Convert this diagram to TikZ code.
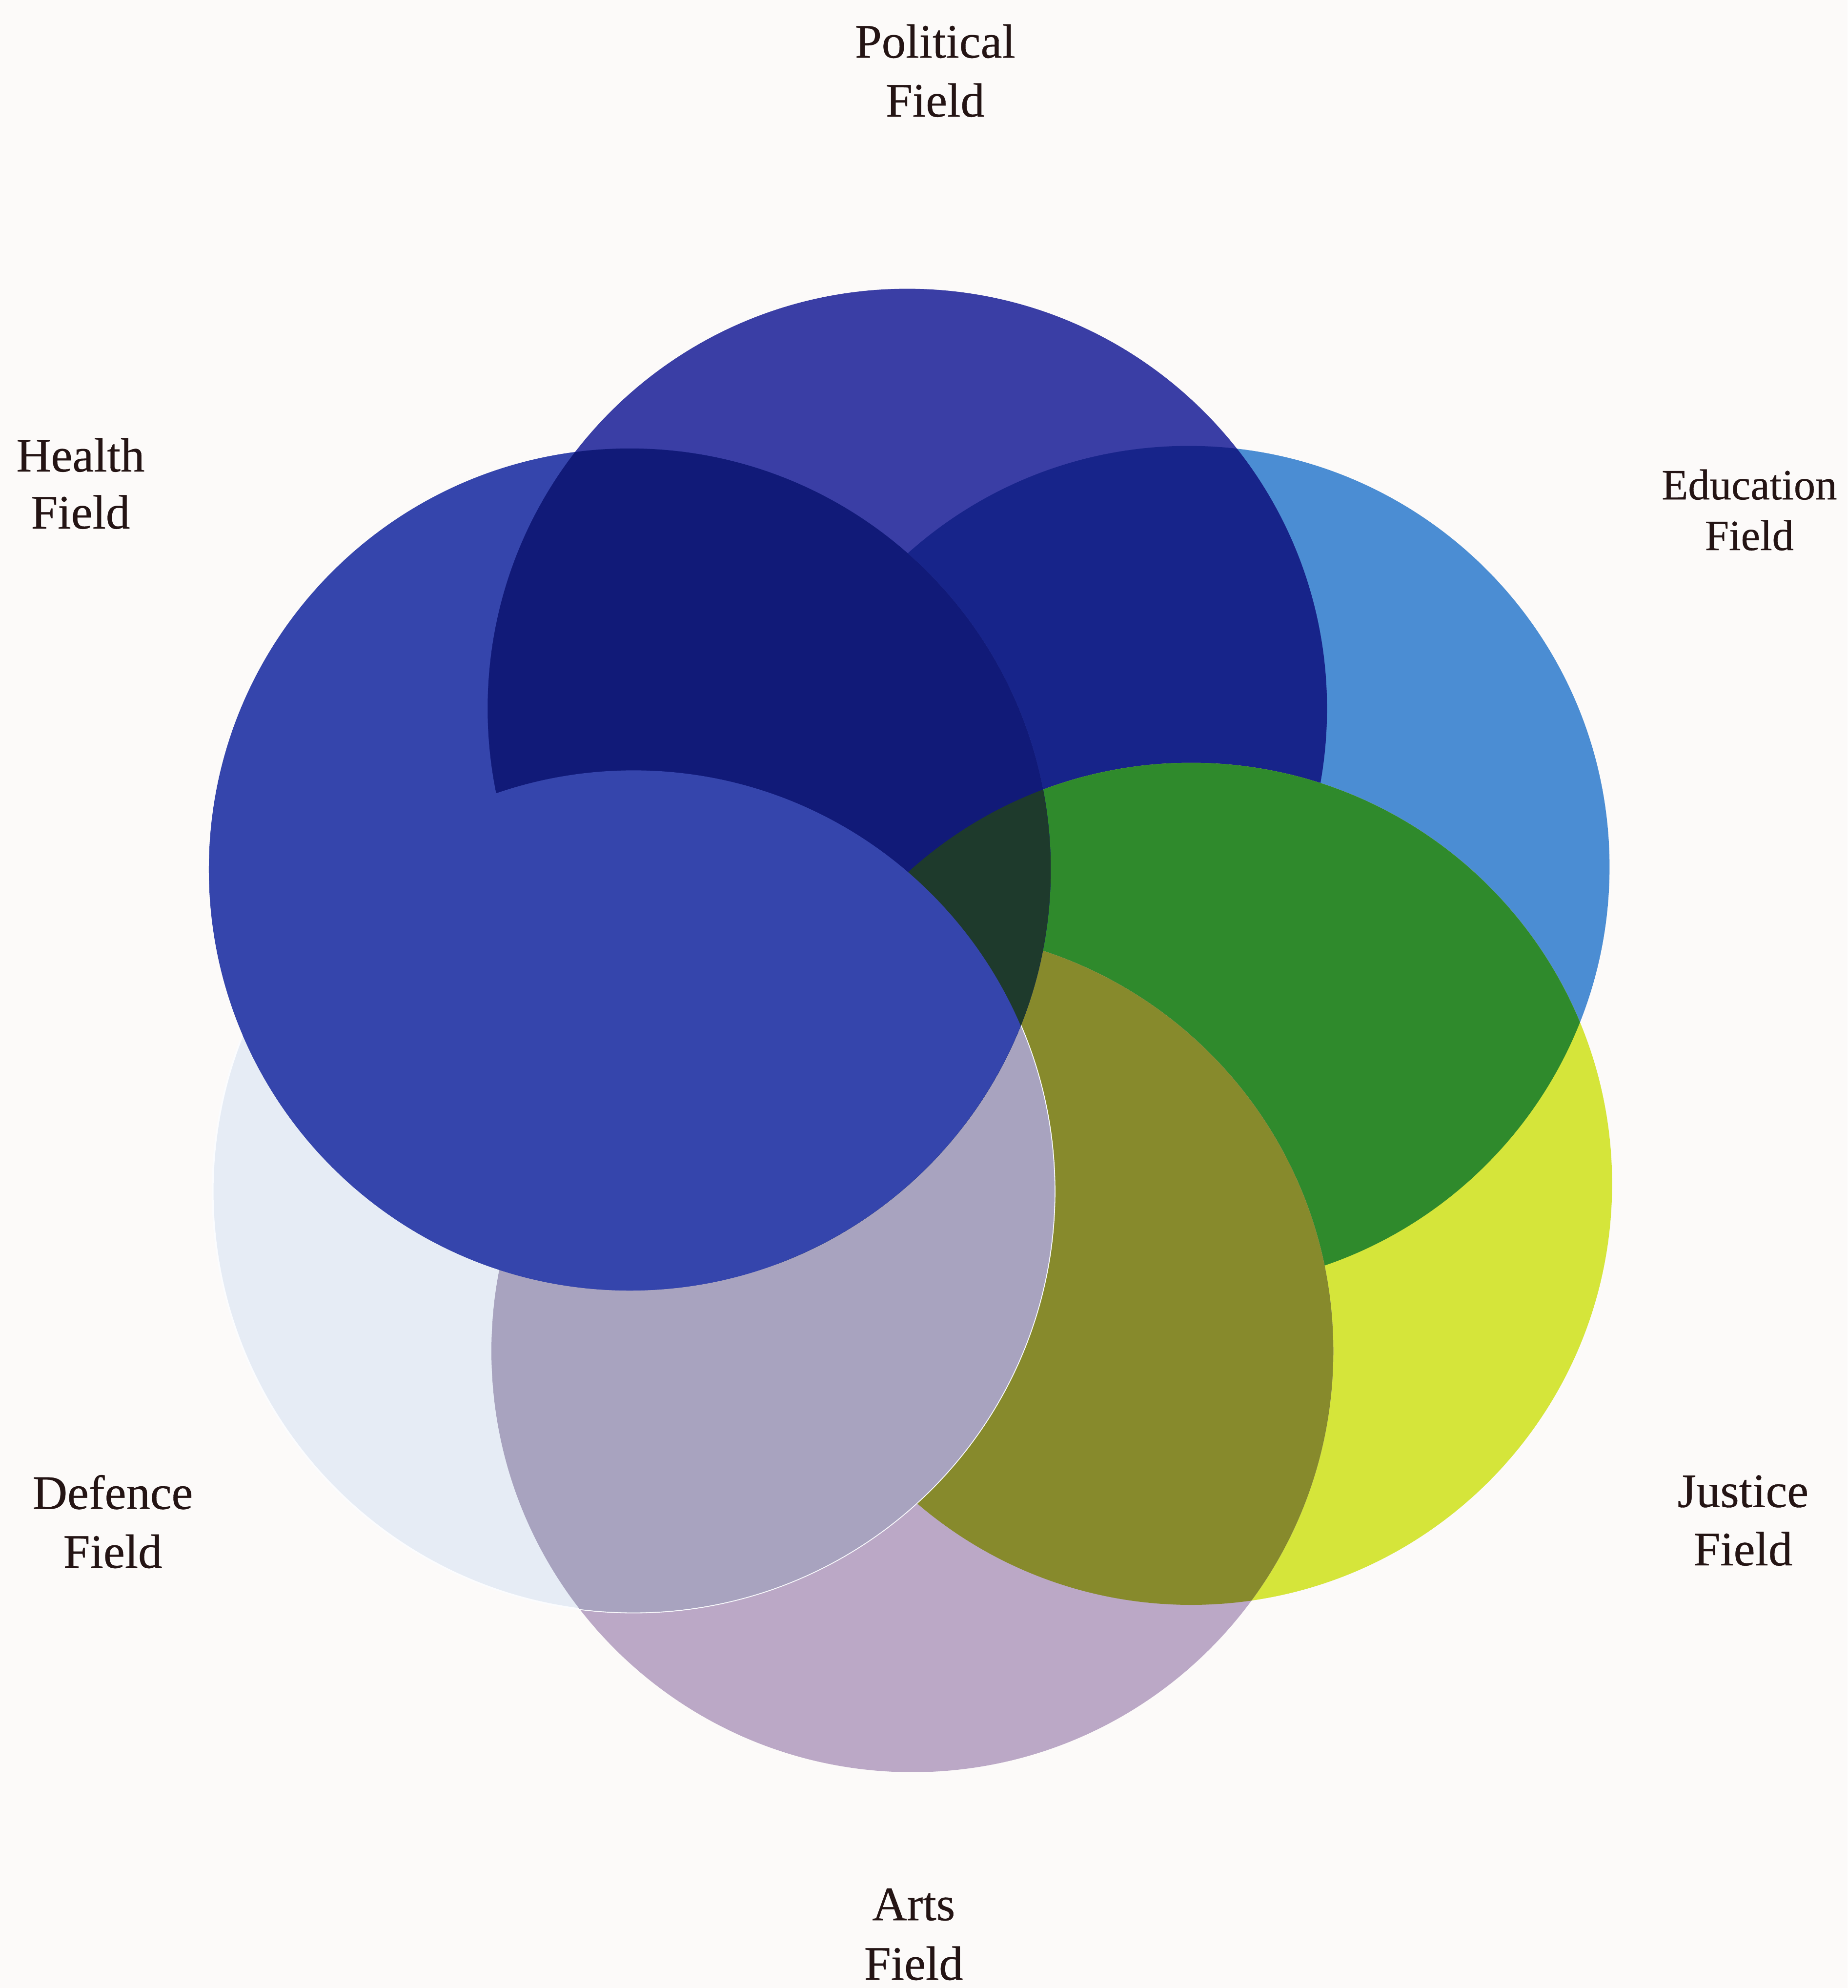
\documentclass[tikz,border=0pt]{standalone}
\usepackage{fontspec}
\setmainfont{Liberation Serif}
\newfontfamily\labfont[FakeBold=0.4]{Liberation Serif}
\definecolor{bgc}{HTML}{FCFAF9}
\definecolor{labtext}{HTML}{241414}
\definecolor{pblue}{HTML}{3A3EA5}
\definecolor{hblue}{HTML}{3545AC}
\definecolor{navyA}{HTML}{111A78}
\definecolor{navyB}{HTML}{17248A}
\definecolor{eblue}{HTML}{4B8DD3}
\definecolor{jyellow}{HTML}{D5E53A}
\definecolor{jgreen}{HTML}{2F8A2C}
\definecolor{dgreen}{HTML}{1E3A2C}
\definecolor{olive}{HTML}{878A2C}
\definecolor{amauve}{HTML}{BBA8C6}
\definecolor{adgray}{HTML}{A8A3BF}
\definecolor{dlight}{HTML}{E6ECF5}
\begin{document}
\begin{tikzpicture}[x=0.01cm,y=-0.01cm,
  lab/.style={anchor=base, inner sep=0pt, text=labtext, font=\labfont\fontsize{10.8}{13}\selectfont},
  labsmall/.style={lab, font=\labfont\fontsize{9.7}{12}\selectfont}]
\fill[bgc] (0,0) rectangle (1458,1568.5);
\useasboundingbox (0,0) rectangle (1458,1568.5);
\def\cP{(716,559) circle (3.31cm)}
\def\cH{(497,686) circle (3.32cm)}
\def\cE{(938,684) circle (3.32cm)}
\def\cJ{(940,934) circle (3.32cm)}
\def\cA{(720,1066) circle (3.32cm)}
\def\cD{(500,940) circle (3.32cm)}
% Education and Political
\fill[eblue] \cE;
\fill[pblue] \cP;
\begin{scope}\clip \cP; \fill[navyB] \cE; \end{scope}
% Justice
\fill[jyellow] \cJ;
\begin{scope}\clip \cJ; \fill[jgreen] \cE; \end{scope}
% Arts
\fill[amauve] \cA;
\begin{scope}\clip \cA; \fill[olive] \cJ; \end{scope}
% Defence
\fill[dlight, draw=white!85!dlight, line width=0.4pt] \cD;
\begin{scope}\clip \cD; \fill[adgray] \cA; \end{scope}
% Health
\fill[hblue] \cH;
\begin{scope}\clip \cH; \fill[navyA] \cP; \end{scope}
\begin{scope}\clip \cH; \fill[dgreen] \cJ; \end{scope}
\begin{scope}\clip \cH; \fill[hblue] \cD; \end{scope}
% labels
\node[lab] (polA) at (738,45.5) {Political};
\node[lab] (polB) at (738,92) {Field};
\node[lab] (heaA) at (63.5,372) {Health};
\node[lab] (heaB) at (63.5,417) {Field};
\node[labsmall] (eduA) at (1380.5,394) {Education};
\node[labsmall] (eduB) at (1380.5,434) {Field};
\node[lab] (defA) at (89,1190.5) {Defence};
\node[lab] (defB) at (89,1237) {Field};
\node[lab] (jusA) at (1375.5,1189) {Justice};
\node[lab] (jusB) at (1375.5,1235) {Field};
\node[lab] (artA) at (721,1515) {Arts};
\node[lab] (artB) at (721,1562) {Field};
\end{tikzpicture}
\end{document}
